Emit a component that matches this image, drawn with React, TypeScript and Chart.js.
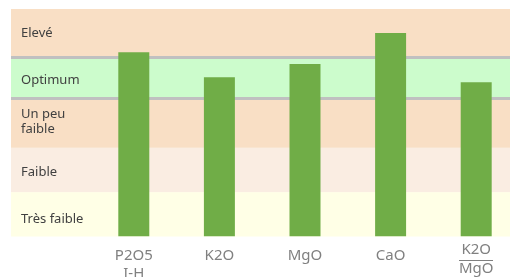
import React, { useEffect, useRef } from "react";
import { Chart, registerables } from "chart.js";

Chart.register(...registerables);

const categories: (string | string[])[] = [["P2O5", "I-H"], "K2O", "MgO", "CaO", ["K2O", "MgO"]];
const values = [81, 70, 75.8, 89.4, 67.8];
const bandLabels: string[][] = [["Très faible"], ["Faible"], ["Un peu", "faible"], ["Optimum"], ["Elevé"]];
const bandLabelLevels = [7.5, 28.2, 50.4, 68.7, 89.4];
const bandBounds = [0, 19.5, 39, 60.5, 78.5, 100];
const bandColors = ["#FFFFE6", "#FAEDE2", "#F9DFC5", "#CCFCCC", "#F9DFC5"];
const separatorLevels = [60.5, 78.5];
const fractionIndex = 4;

const FONT = "'Noto Sans'";

const bandsPlugin = {
  id: "bands",
  beforeDatasetsDraw(chart: any) {
    const { ctx, scales } = chart;
    const y = scales.y;
    const left = 11;
    const right = chart.width;
    ctx.save();
    for (let i = 0; i < bandColors.length; i++) {
      const top = y.getPixelForValue(bandBounds[i + 1]);
      const bot = y.getPixelForValue(bandBounds[i]);
      ctx.fillStyle = bandColors[i];
      ctx.fillRect(left, top, right - left, bot - top);
    }
    ctx.fillStyle = "#C0C0C0";
    for (const lv of separatorLevels) {
      const py = y.getPixelForValue(lv);
      ctx.fillRect(left, Math.round(py - 1.5), right - left, 3);
    }
    ctx.fillStyle = "#404040";
    ctx.font = "13px " + FONT;
    ctx.textBaseline = "middle";
    ctx.textAlign = "left";
    for (let i = 0; i < bandLabels.length; i++) {
      const cy = y.getPixelForValue(bandLabelLevels[i]);
      const lines = bandLabels[i];
      const lh = 15;
      lines.forEach((ln, k) => {
        ctx.fillText(ln, 21, cy + (k - (lines.length - 1) / 2) * lh);
      });
    }
    ctx.restore();
  },
  afterDraw(chart: any) {
    const { ctx, scales } = chart;
    const x = scales.x;
    const cx = x.getPixelForValue(fractionIndex);
    const base = scales.y.bottom;
    const lines = categories[fractionIndex] as string[];
    ctx.save();
    ctx.fillStyle = "#808080";
    ctx.font = "15px " + FONT;
    ctx.textAlign = "center";
    ctx.textBaseline = "middle";
    ctx.fillText(lines[0], cx, base + 13);
    ctx.fillText(lines[1], cx, base + 32.5);
    ctx.fillRect(Math.round(cx - 17), Math.round(base + 23.5), 34, 1);
    ctx.restore();
  },
};

export default function App() {
  const ref = useRef<HTMLCanvasElement>(null);
  useEffect(() => {
    if (!ref.current) return;
    const chart = new Chart(ref.current, {
      type: "bar",
      data: {
        labels: categories,
        datasets: [
          {
            data: values,
            backgroundColor: "#70AD47",
            barPercentage: 0.362,
            categoryPercentage: 1,
          },
        ],
      },
      options: {
        animation: false,
        responsive: false,
        devicePixelRatio: 1,
        layout: { padding: { left: 91, top: 9, right: 1, bottom: 0 } },
        plugins: { legend: { display: false }, tooltip: { enabled: false } },
        scales: {
          x: {
            grid: { display: false, drawTicks: false },
            border: { display: false },
            ticks: {
              color: "#808080",
              font: { family: FONT, size: 15, lineHeight: 1.2 },
              padding: 10,
              maxRotation: 0,
              autoSkip: false,
              callback: (_v: any, i: number) => (i === fractionIndex ? "" : categories[i]),
            },
            afterFit: (scale: any) => {
              scale.height = 40.5;
            },
          },
          y: { display: false, min: 0, max: 100 },
        },
      },
      plugins: [bandsPlugin],
    });
    return () => chart.destroy();
  }, []);
  return (
    <div style={{ position: "fixed", left: 0, top: 0, width: 510, height: 277, overflow: "hidden", background: "#fff" }}>
      <canvas ref={ref} width={520} height={277} style={{ width: 520, height: 277, display: "block" }} />
    </div>
  );
}
